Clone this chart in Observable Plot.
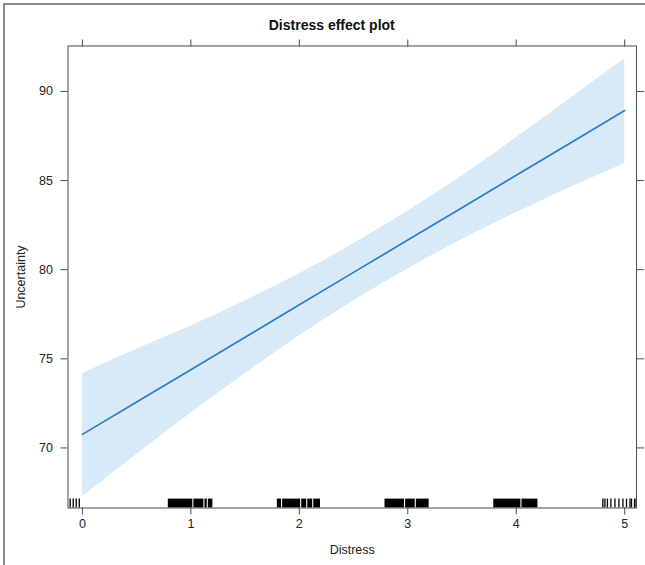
<!DOCTYPE html>
<html><head><meta charset="utf-8">
<script src="https://cdn.jsdelivr.net/npm/d3@7"></script>
<script src="https://cdn.jsdelivr.net/npm/@observablehq/plot@0.6"></script>
<style>
body{margin:0;background:#fff;}
#wrap{position:relative;width:645px;height:565px;overflow:hidden;}
#border{position:absolute;left:3px;top:3px;width:700px;height:700px;border-left:2px solid #8c8c8c;border-top:2px solid #8c8c8c;}
#wrap svg{position:absolute;left:0;top:0;}
</style></head><body><div id="wrap"><div id="border"></div></div>
<script>
// Effect estimates
const distress = [0, 0.5, 1, 1.5, 2, 2.5, 3, 3.5, 4, 4.5, 5];
const fit      = [70.76, 72.58, 74.39, 76.21, 78.03, 79.85, 81.66, 83.48, 85.30, 87.11, 88.93];
const lower    = [67.25, 69.63, 71.94, 74.16, 76.29, 78.25, 80.04, 81.70, 83.20, 84.61, 85.96];
const upper    = [74.17, 75.53, 76.84, 78.26, 79.77, 81.45, 83.28, 85.26, 87.40, 89.61, 91.83];

// Rug (jittered Distress observations): dense blocks as spans, sparse ones as single lines
const rugSpanStart = [0.792, 1.028, 1.130, 1.161, 1.797, 1.846, 2.022, 2.078, 2.133, 2.790, 2.980, 3.079, 3.793, 4.053];
const rugSpanEnd   = [1.018, 1.120, 1.151, 1.203, 1.836, 2.012, 2.068, 2.123, 2.195, 2.970, 3.069, 3.197, 4.043, 4.200];
const rugLines = [-0.113, -0.085, -0.057, -0.029,
  4.799, 4.818, 4.841, 4.873, 4.910, 4.947, 4.984, 5.017, 5.049, 5.063, 5.091, 5.105];

const xTicks = [0, 1, 2, 3, 4, 5];
const yTicks = [70, 75, 80, 85, 90];
const xDomain = [-0.133, 5.109];
const yDomain = [66.63, 92.55];
const rugLen = 0.5;

const title = "Distress effect plot";
const xLabel = "Distress";
const yLabel = "Uncertainty";

const band = distress.map((d, i) => ({d, fit: fit[i], lower: lower[i], upper: upper[i]}));
const spans = rugSpanStart.map((s, i) => ({x1: s, x2: rugSpanEnd[i]}));

const lineColor = "#2b7bcb";
const bandColor = "#d8e9f7";
const axisColor = "#4d4d4d";

const chart = Plot.plot({
  width: 645,
  height: 565,
  marginLeft: 67.5,
  marginRight: 9,
  marginTop: 45.5,
  marginBottom: 57.5,
  style: {fontFamily: "'Liberation Sans', Arial, sans-serif", fontSize: "12px", color: "#222", background: "transparent"},
  x: {domain: xDomain},
  y: {domain: yDomain},
  marks: [
    Plot.areaY(band, {x: "d", y1: "lower", y2: "upper", fill: bandColor, curve: "natural"}),
    Plot.line(band, {x: "d", y: "fit", stroke: lineColor, strokeWidth: 1.7}),
    Plot.rect(spans, {x1: "x1", x2: "x2", y1: () => yDomain[0], y2: () => yDomain[0] + rugLen, fill: "#000", inset: 0}),
    Plot.ruleX(rugLines, {x: d => d, y1: () => yDomain[0], y2: () => yDomain[0] + rugLen, stroke: "#000", strokeWidth: 1.3}),
    Plot.frame({stroke: axisColor}),
    Plot.axisX({anchor: "bottom", ticks: xTicks, tickSize: 7, tickPadding: 4, stroke: axisColor, fill: "#222", fontSize: 12.5,
      tickFormat: d3.format("d"), label: xLabel, labelAnchor: "center", labelArrow: "none", labelOffset: 46}),
    Plot.axisX({anchor: "top", ticks: xTicks, tickSize: 7, stroke: axisColor, tickFormat: () => "", label: null}),
    Plot.axisY({anchor: "left", ticks: yTicks, tickSize: 7, tickPadding: 8, stroke: axisColor, fill: "#222", fontSize: 12.5,
      tickFormat: d3.format("d"), label: yLabel, labelAnchor: "center", labelArrow: "none", labelOffset: 52}),
    Plot.axisY({anchor: "right", ticks: yTicks, tickSize: 7, stroke: axisColor, tickFormat: () => "", label: null}),
    Plot.text([title], {frameAnchor: "top", dy: -25.5, dx: -20.5, fontWeight: "bold", fontSize: 14, fill: "#111"})
  ]
});
document.getElementById("wrap").appendChild(chart);
</script>
</body></html>
